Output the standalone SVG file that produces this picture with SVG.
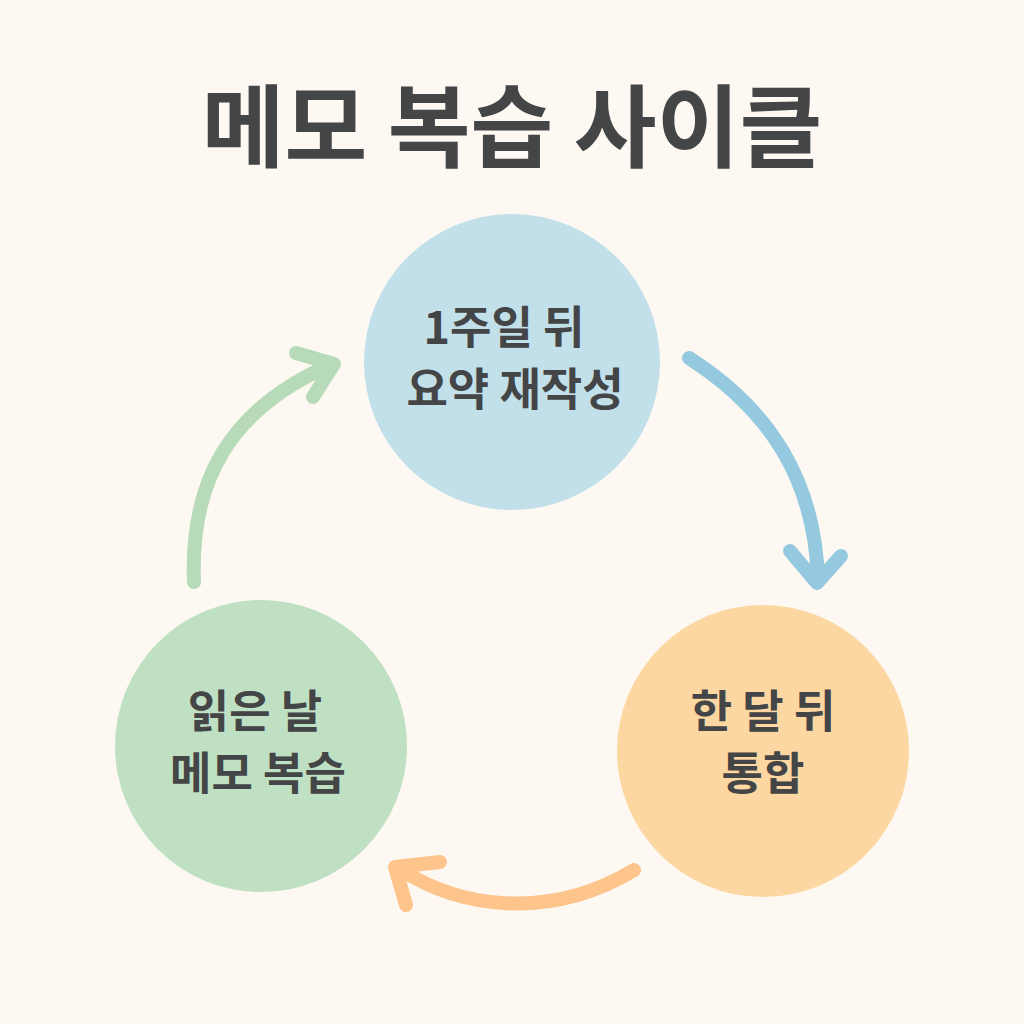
<svg xmlns="http://www.w3.org/2000/svg" width="1024" height="1024" viewBox="0 0 1024 1024">
<style>
.t{font-family:"Noto Sans CJK KR","Noto Sans",sans-serif;font-weight:700;fill:#444546;text-anchor:middle}
.lbl{font-size:45px}
.a{fill:none;stroke-width:14;stroke-linecap:round;stroke-linejoin:round}
</style>
<rect width="1024" height="1024" fill="#fdf9f2"/>
<text class="t" x="512" y="160" font-size="90" font-weight="900">메모 복습 사이클</text>
<g id="connectors">
<path class="a" stroke="#b7dbb9" d="M194 582 C190 480 230 410 328 366"/>
<path class="a" stroke="#b7dbb9" d="M296 353 L334 364 L313 397"/>
<path class="a" stroke="#95c9df" d="M689 358 C770 410 815 480 818 580"/>
<path class="a" stroke="#95c9df" d="M790 551 L817 583 L841 556"/>
<path class="a" stroke="#fdc48c" d="M634 870 C560 915 470 915 398 868"/>
<path class="a" stroke="#fdc48c" d="M440 862 L395 867 L406 905"/>
</g>
<g id="node-week">
<circle cx="512" cy="362" r="148" fill="#c2e0ea"/>
<text class="t lbl" x="504" y="344">1주일 뒤</text>
<text class="t lbl" x="515" y="406">요약 재작성</text>
</g>
<g id="node-month">
<circle cx="763" cy="751" r="146" fill="#fdd7a2"/>
<text class="t lbl" x="763" y="728">한 달 뒤</text>
<text class="t lbl" x="763" y="790">통합</text>
</g>
<g id="node-day">
<circle cx="261" cy="746" r="146" fill="#bfe0c3"/>
<text class="t lbl" x="255" y="728">읽은 날</text>
<text class="t lbl" x="258" y="790">메모 복습</text>
</g>
</svg>
